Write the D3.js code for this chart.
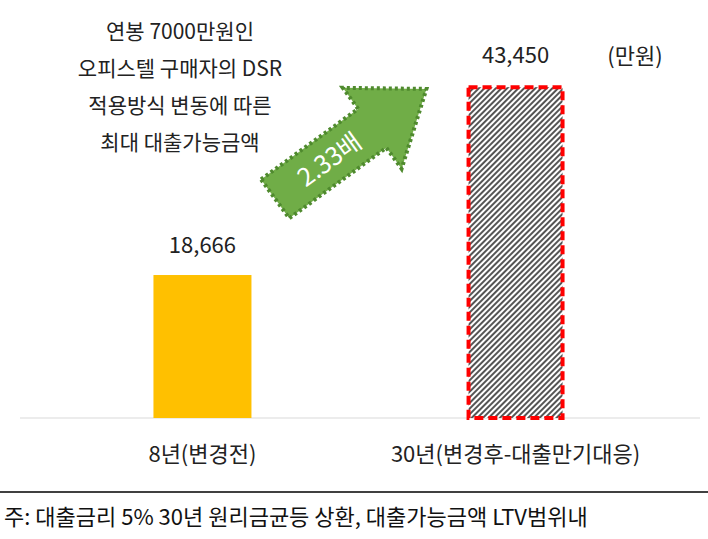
<!DOCTYPE html><html><head><meta charset="utf-8"><script src="https://d3js.org/d3.v7.min.js"></script>
<style>body{margin:0;background:#fff}</style></head><body><svg id="c" width="708" height="539"></svg>
<script>
const categories=["8년(변경전)","30년(변경후-대출만기대응)"];
const values=[18666,43450];
const titleLines=["연봉 7000만원인","오피스텔 구매자의 DSR","적용방식 변동에 따른","최대 대출가능금액"];
const unitLabel="(만원)";
const ratioLabel="2.33배";
const note="주: 대출금리 5% 30년 원리금균등 상환, 대출가능금액 LTV범위내";
const svg=d3.select("#c");const F="'Noto Sans CJK KR',sans-serif";
const x=d3.scaleBand().domain(categories).range([47,671]).paddingInner(0.687).paddingOuter(0.34);
const y=d3.scaleLinear().domain([0,50000]).range([418,35]);
const defs=svg.append("defs");
const p=defs.append("pattern").attr("id","h").attr("patternUnits","userSpaceOnUse").attr("width",4).attr("height",4).attr("patternTransform","rotate(45)");
p.append("rect").attr("width",4).attr("height",4).attr("fill","#fff");
p.append("rect").attr("width",2).attr("height",4).attr("fill","#555");
svg.append("line").attr("x1",20).attr("x2",700).attr("y1",418).attr("y2",418).attr("stroke","#d9d9d9");
categories.forEach((c,i)=>{
 const bx=x(c),bw=x.bandwidth(),by=y(values[i]);
 if(i==0)svg.append("rect").attr("x",bx).attr("y",by).attr("width",bw).attr("height",418-by).attr("fill","#ffc000");
 else svg.append("rect").attr("x",bx+2).attr("y",by+2).attr("width",bw-4).attr("height",418-by-2).attr("fill","url(#h)").attr("stroke","#ff0000").attr("stroke-width",4).attr("stroke-dasharray","9,5");
 svg.append("text").attr("x",bx+bw/2).attr("y",by-22).attr("text-anchor","middle").attr("font-family",F).attr("font-size",22).attr("fill","#222").text(d3.format(",")(values[i]));
 svg.append("text").attr("x",bx+bw/2).attr("y",462).attr("text-anchor","middle").attr("font-family",F).attr("font-size",22).attr("fill","#222").text(c);
});
svg.append("text").attr("x",635).attr("y",64).attr("text-anchor","middle").attr("font-family",F).attr("font-size",22).attr("fill","#222").text(unitLabel);
titleLines.forEach((t,i)=>svg.append("text").attr("x",180).attr("y",39+i*37).attr("text-anchor","middle").attr("font-family",F).attr("font-size",21).attr("fill","#222").text(t));
const g=svg.append("g").attr("transform","translate(352,143) rotate(-36)");
g.append("path").attr("d","M-95,-24 L25,-24 L25,-50 L92,0 L25,50 L25,24 L-95,24 Z").attr("fill","#70ad47").attr("stroke","#4f8a2e").attr("stroke-width",4).attr("stroke-dasharray","3,3");
g.append("text").attr("x",-28).attr("y",9).attr("text-anchor","middle").attr("font-family",F).attr("font-size",25).attr("fill","#fff").text(ratioLabel);
svg.append("line").attr("x1",0).attr("x2",708).attr("y1",492).attr("y2",492).attr("stroke","#000").attr("stroke-width",1.5);
svg.append("text").attr("x",4).attr("y",525).attr("font-family",F).attr("font-size",22).attr("fill","#111").text(note);
</script></body></html>
